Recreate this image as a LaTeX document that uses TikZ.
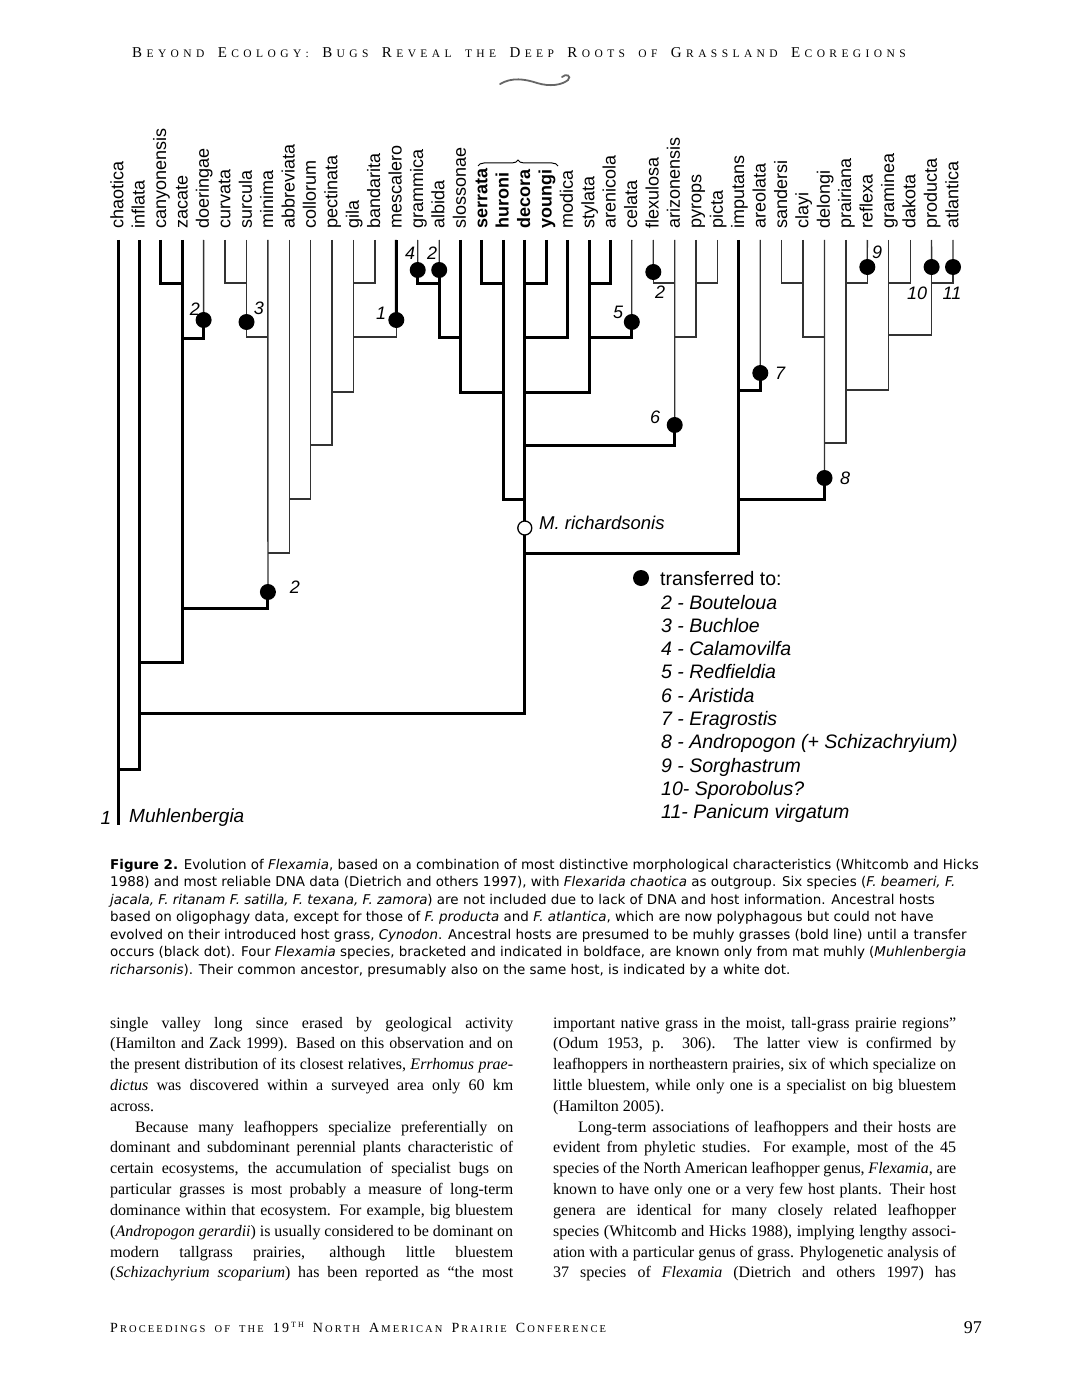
\documentclass[tikz,border=0pt]{standalone}
\usepackage{fontspec}
\setmainfont{Liberation Serif}
\setsansfont{Liberation Sans}
\newfontfamily\capfont{DejaVu Sans}
\usetikzlibrary{decorations.pathreplacing}

\newlength\lspk
\def\lspA#1{\ifx#1\relax\else#1\kern\lspk\expandafter\lspA\fi}
\newcommand\lsp[1]{\lspA#1\relax}
\def\scbig{15}\def\scsml{11.5}
\newcommand\fsc[2]{{\fontsize{\scbig}{\scbig}\selectfont #1}\kern\lspk{\fontsize{\scsml}{\scsml}\selectfont\lsp{#2}}}
\newcommand\fsm[1]{{\fontsize{\scsml}{\scsml}\selectfont\lsp{#1}}}
\newcommand\jline[1]{\hbox to 403pt{#1}}
\newcommand\lline[1]{\hbox to 403pt{#1\hfil}}

\begin{document}
\begin{tikzpicture}[x=1pt,y=-1pt,
  thk/.style={line width=3pt, black},
  thn/.style={line width=1.3pt, black!80},
  taxon/.style={font=\sffamily\fontsize{18}{18}\selectfont, inner sep=0pt, rotate=90, anchor=mid west},
  fdot/.style={circle, fill=black, inner sep=0pt, minimum size=16pt},
  wdot/.style={circle, fill=white, draw=black, line width=1.3pt, inner sep=0pt, minimum size=14pt},
  num/.style={font=\sffamily\itshape\fontsize{18}{18}\selectfont, inner sep=0pt},
  leg/.style={font=\sffamily\itshape\fontsize{19.5}{19.5}\selectfont, inner sep=0pt, anchor=base west},
]
\useasboundingbox (0,0) rectangle (1066,1380);
\fill[white] (0,0) rectangle (1066,1380);

% ---------- header ----------
\node[anchor=base west, inner sep=0pt] (hdr) at (132,58) {\setlength\lspk{4.4pt}%
\fsc{B}{EYOND}\hspace{9pt}\fsc{E}{COLOGY:}\hspace{9pt}\fsc{B}{UGS}\hspace{9pt}\fsc{R}{EVEAL}\hspace{9pt}\fsm{THE}\hspace{9pt}\fsc{D}{EEP}\hspace{9pt}\fsc{R}{OOTS}\hspace{9pt}\fsm{OF}\hspace{9pt}\fsc{G}{RASSLAND}\hspace{9pt}\fsc{E}{COREGIONS}};
\draw[line width=1.8pt, black!60, line cap=round] (500,84) .. controls (512,77) and (525,79) .. (537,83) .. controls (550,87) and (562,85) .. (568,80) .. controls (572,76) and (566,73) .. (562,77);

% ---------- taxa ----------
\foreach \nm [count=\i from 0] in {chaotica,inflata,canyonensis,zacate,doeringae,curvata,surcula,minima,abbreviata,collorum,pectinata,gila,bandarita,mescalero,grammica,albida,slossonae,{\bfseries serrata},{\bfseries huroni},{\bfseries decora},{\bfseries youngi},modica,stylata,arenicola,celata,flexulosa,arizonensis,pyrops,picta,imputans,areolata,sandersi,clayi,delongi,prairiana,reflexa,graminea,dakota,producta,atlantica} {
  \pgfmathsetmacro\xx{118+21.41*\i}
  \coordinate (T\i) at (\xx,240);
  \node[taxon] (L\i) at (\xx+3,229) {\nm};
}
\draw[decorate, decoration={brace, amplitude=6pt}, line width=1pt] (478,166) -- (558,166);

% ---------- internal coordinates ----------
\coordinate (root) at (118,825);
\coordinate (c1) at (182.2,283);
\coordinate (c2) at (182.2,338);
\coordinate (c3) at (182.2,608);
\coordinate (c5) at (139.4,662);
\coordinate (c6) at (139.4,713);
\coordinate (c8) at (118,769);
\coordinate (s1) at (246.5,283);
\coordinate (s3) at (267.9,337);
\coordinate (a1) at (267.9,553);
\coordinate (a2) at (289.3,499);
\coordinate (a3) at (310.7,445);
\coordinate (a4) at (332.1,392);
\coordinate (g1) at (353.5,283);
\coordinate (g2) at (353.5,337);
\coordinate (m1) at (439.2,283);
\coordinate (m2) at (460.6,337);
\coordinate (m3) at (503.4,392);
\coordinate (m4) at (503.4,283);
\coordinate (m5) at (524.8,499);
\coordinate (m6) at (524.8,283);
\coordinate (m7) at (524.8,337);
\coordinate (m8) at (524.8,392);
\coordinate (m9) at (589.0,283);
\coordinate (m10) at (589.0,337);
\coordinate (m11) at (524.8,445);
\coordinate (m12) at (524.8,553);
\coordinate (r1) at (674.7,283);
\coordinate (r2) at (674.7,337);
\coordinate (r3) at (696.1,283);
\coordinate (r4) at (738.9,390);
\coordinate (r5) at (803.1,283);
\coordinate (r6) at (824.5,337);
\coordinate (r7) at (738.9,499);
\coordinate (r8) at (824.5,443);
\coordinate (r9) at (845.9,283);
\coordinate (r10) at (845.9,390);
\coordinate (r11) at (888.7,283);
\coordinate (r12) at (888.7,335);
\coordinate (r13) at (931.6,283);
% transfer points
\coordinate (dA) at (203.6,320);
\coordinate (dB) at (267.9,592);
\coordinate (dC) at (396.3,320);
\coordinate (dD) at (417.7,270);
\coordinate (dE) at (439.2,270);
\coordinate (dF) at (631.8,322);
\coordinate (dG) at (653.3,272);
\coordinate (dH) at (674.7,425);
\coordinate (dI) at (760.3,373);
\coordinate (dJ) at (824.5,478);
\coordinate (dK) at (867.3,267);
\coordinate (dL) at (931.6,267);
\coordinate (dM) at (953.0,267);
\coordinate (d3) at (246.5,322);
\coordinate (wR) at (524.8,528);

% ---------- branches ----------
\draw[thk] (T0) -- (root);
\draw[thk] (T1) |- (c8);
\draw[thk] (T2) |- (c1);
\draw[thk] (T3) |- (c5);
\draw[thn] (T4) -- (dA);
\draw[thk] (dA) |- (c2);
\draw[thn] (T5) |- (s1);
\draw[thn] (T6) |- (s3);
\draw[thn] (T7) -- (dB);
\draw[thk] (dB) |- (c3);
\draw[thn] (T8) |- (a1);
\draw[thn] (T9) |- (a2);
\draw[thn] (T10) |- (a3);
\draw[thn] (T11) |- (a4);
\draw[thn] (T12) |- (g1);
\draw[thk] (T13) -- (dC);
\draw[thn] (dC) |- (g2);
\draw[thn] (T14) -- (dD);
\draw[thk] (dD) |- (m1);
\draw[thn] (T15) -- (dE);
\draw[thk] (dE) |- (m2);
\draw[thk] (T16) |- (m3);
\draw[thk] (T17) |- (m4);
\draw[thk] (T18) |- (m5);
\draw[thk] (T19) |- (c6);
\draw[thk] (T20) |- (m6);
\draw[thk] (T21) |- (m7);
\draw[thk] (T22) |- (m8);
\draw[thk] (T23) |- (m9);
\draw[thn] (T24) -- (dF);
\draw[thk] (dF) |- (m10);
\draw[thn] (T25) -- (dG);
\draw[thn] (dG) |- (r1);
\draw[thn] (T26) -- (dH);
\draw[thk] (dH) |- (m11);
\draw[thn] (T27) |- (r2);
\draw[thn] (T28) |- (r3);
\draw[thk] (T29) |- (m12);
\draw[thn] (T30) -- (dI);
\draw[thk] (dI) |- (r4);
\draw[thn] (T31) |- (r5);
\draw[thn] (T32) |- (r6);
\draw[thn] (T33) -- (dJ);
\draw[thk] (dJ) |- (r7);
\draw[thn] (T34) |- (r8);
\draw[thn] (T35) -- (dK);
\draw[thn] (dK) |- (r9);
\draw[thn] (T36) |- (r10);
\draw[thn] (T37) |- (r11);
\draw[thn] (T38) -- (dL);
\draw[thn] (dL) |- (r12);
\draw[thn] (T39) -- (dM);
\draw[thn] (dM) |- (r13);

% ---------- dots ----------
\foreach \d in {dA,dB,dC,dD,dE,dF,dG,dH,dI,dJ,dK,dL,dM,d3} {\node[fdot] (N\d) at (\d) {};}
\node[wdot] (NwR) at (wR) {};

% ---------- dot numbers ----------
\node[num] (nA) at (195,309) {2};
\node[num] (n3) at (259,308) {3};
\node[num] (nC) at (381,313) {1};
\node[num] (nB) at (295,587) {2};
\node[num] (nD) at (410,253) {4};
\node[num] (nE) at (432,253) {2};
\node[num] (nF) at (618,312) {5};
\node[num] (nG) at (660,292) {2};
\node[num] (nH) at (655,417) {6};
\node[num] (nI) at (780,373) {7};
\node[num] (nJ) at (845,478) {8};
\node[num] (nK) at (877,252) {9};
\node[num] (nL) at (917,293) {10};
\node[num] (nM) at (952,293) {11};
\node[anchor=west, inner sep=0pt, font=\sffamily\itshape\fontsize{18.5}{18.5}\selectfont] (rich) at (539,523) {M. richardsonis};
\node[num, font=\sffamily\itshape\fontsize{19}{19}\selectfont] (one) at (106,818) {1};
\node[anchor=west, inner sep=0pt, font=\sffamily\itshape\fontsize{19}{19}\selectfont] (muhl) at (129,818) {Muhlenbergia};

% ---------- legend ----------
\node[fdot] (legdot) at (641,578) {};
\node[leg, font=\sffamily\fontsize{19.5}{19.5}\selectfont] (legt) at (660,585) {transferred to:};
\node[leg] (l2) at (661,609) {2 - Bouteloua};
\node[leg] (l3) at (661,632.3) {3 - Buchloe};
\node[leg] (l4) at (661,655.6) {4 - Calamovilfa};
\node[leg] (l5) at (661,678.9) {5 - Redfieldia};
\node[leg] (l6) at (661,702.2) {6 - Aristida};
\node[leg] (l7) at (661,725.5) {7 - Eragrostis};
\node[leg] (l8) at (661,748.8) {8 - Andropogon (+ Schizachryium)};
\node[leg] (l9) at (661,772.1) {9 - Sorghastrum};
\node[leg] (l10) at (661,795.4) {10- Sporobolus?};
\node[leg] (l11) at (661,818.7) {11- Panicum virgatum};

% ---------- caption ----------
\node[anchor=base west, inner sep=0pt] (cap) at (110,869) {\begin{minipage}[t]{900pt}\capfont\fontsize{13.45}{17.5}\selectfont\raggedright
\textbf{Figure 2.} Evolution of \textit{Flexamia}, based on a combination of most distinctive morphological characteristics (Whitcomb and Hicks\\
1988) and most reliable DNA data (Dietrich and others 1997), with \textit{Flexarida chaotica} as outgroup. Six species (\textit{F. beameri, F.}\\
\textit{jacala, F. ritanam F. satilla, F. texana, F. zamora}) are not included due to lack of DNA and host information. Ancestral hosts\\
based on oligophagy data, except for those of \textit{F. producta} and \textit{F. atlantica}, which are now polyphagous but could not have\\
evolved on their introduced host grass, \textit{Cynodon}. Ancestral hosts are presumed to be muhly grasses (bold line) until a transfer\\
occurs (black dot). Four \textit{Flexamia} species, bracketed and indicated in boldface, are known only from mat muhly (\textit{Muhlenbergia}\\
\textit{richarsonis}). Their common ancestor, presumably also on the same host, is indicated by a white dot.
\end{minipage}};

% ---------- body text ----------
\node[anchor=base west, inner sep=0pt] (colL) at (110,1028) {\begin{minipage}[t]{403pt}\fontsize{16}{20.83}\selectfont
\jline{single valley long since erased by geological activity}
\jline{(Hamilton and Zack 1999). Based on this observation and on}
\jline{the present distribution of its closest relatives, \textit{Errhomus prae-}}
\jline{\textit{dictus} was discovered within a surveyed area only 60 km}
\lline{across.}
\jline{\hspace*{25pt}Because many leafhoppers specialize preferentially on}
\jline{dominant and subdominant perennial plants characteristic of}
\jline{certain ecosystems, the accumulation of specialist bugs on}
\jline{particular grasses is most probably a measure of long-term}
\jline{dominance within that ecosystem. For example, big bluestem}
\jline{(\textit{Andropogon gerardii}) is usually considered to be dominant on}
\jline{modern tallgrass prairies, although little bluestem}
\jline{(\textit{Schizachyrium scoparium}) has been reported as “the most}
\end{minipage}};
\node[anchor=base west, inner sep=0pt] (colR) at (553,1028) {\begin{minipage}[t]{403pt}\fontsize{16}{20.83}\selectfont
\jline{important native grass in the moist, tall-grass prairie regions”}
\jline{(Odum 1953, p. 306). The latter view is confirmed by}
\jline{leafhoppers in northeastern prairies, six of which specialize on}
\jline{little bluestem, while only one is a specialist on big bluestem}
\lline{(Hamilton 2005).}
\jline{\hspace*{25pt}Long-term associations of leafhoppers and their hosts are}
\jline{evident from phyletic studies. For example, most of the 45}
\jline{species of the North American leafhopper genus, \textit{Flexamia}, are}
\jline{known to have only one or a very few host plants. Their host}
\jline{genera are identical for many closely related leafhopper}
\jline{species (Whitcomb and Hicks 1988), implying lengthy associ-}
\jline{ation with a particular genus of grass. Phylogenetic analysis of}
\jline{37 species of \textit{Flexamia} (Dietrich and others 1997) has}
\end{minipage}};

% ---------- footer ----------
\node[anchor=base west, inner sep=0pt] (ftr) at (110,1332) {\def\scbig{14}\def\scsml{10.5}\setlength\lspk{2.1pt}%
\fsc{P}{ROCEEDINGS}\hspace{7pt}\fsm{OF}\hspace{7pt}\fsm{THE}\hspace{7pt}{\fontsize{\scbig}{\scbig}\selectfont\lsp{19}}\raisebox{5pt}{\fontsize{8}{8}\selectfont\lsp{TH}}\hspace{7pt}\fsc{N}{ORTH}\hspace{7pt}\fsc{A}{MERICAN}\hspace{7pt}\fsc{P}{RAIRIE}\hspace{7pt}\fsc{C}{ONFERENCE}};
\node[anchor=base east, inner sep=0pt, font=\fontsize{18}{18}\selectfont] (pg) at (982,1333) {97};
\end{tikzpicture}
\end{document}
